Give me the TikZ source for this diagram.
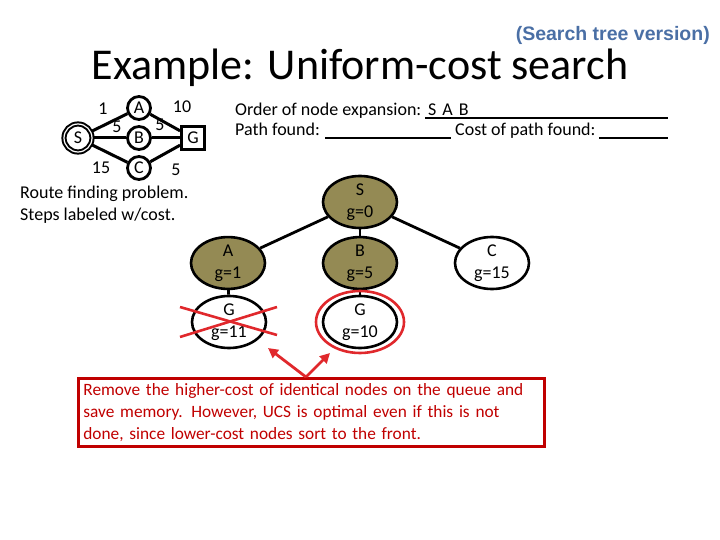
\documentclass[tikz,border=0pt]{standalone}
\usepackage{fontspec}
\setmainfont{Carlito}
\newfontfamily\arialfont{Liberation Sans}
\usetikzlibrary{positioning,arrows.meta,shapes.geometric}
\definecolor{olivefill}{HTML}{948A54}
\definecolor{notered}{HTML}{C00000}
\definecolor{markred}{HTML}{E0282C}
\definecolor{tagblue}{HTML}{4A6FA5}
\begin{document}
\begin{tikzpicture}[x=1pt,y=-1pt,font=\fontsize{18}{22}\selectfont,
  txt/.style={inner sep=0pt},
  gnode/.style={draw,circle,line width=2.8pt,minimum size=23pt,inner sep=0pt},
  gedge/.style={line width=3pt},
  tnode/.style={draw,ellipse,line width=2.6pt,minimum width=74pt,minimum height=46pt,inner sep=0pt,align=center},
  expanded/.style={tnode,fill=olivefill},
  tedge/.style={line width=2.8pt},
  redmark/.style={draw=markred,line width=2.6pt},
  pointer/.style={draw=markred,line width=2.8pt,-{Triangle[length=10pt,width=10pt]}},
  blank/.style={line width=1.4pt}]
  \useasboundingbox (0,0) rectangle (720,540);
  \node[txt,anchor=base east,font=\arialfont\bfseries\fontsize{19.5}{22}\selectfont,text=tagblue] (tag) at (710,41) {(Search tree version)};
  \node[txt,anchor=base,font=\fontsize{44}{48}\selectfont] (title) at (360,80) {Example: Uniform-cost search};
  % route finding graph
  \node[gnode,double,double distance=1.2pt,line width=2pt,minimum size=28pt] (gs) at (78,138) {S};
  \node[gnode] (ga) at (139,108) {A};
  \node[gnode] (gb) at (139,138) {B};
  \node[gnode] (gc) at (139,168) {C};
  \node[draw,rectangle,line width=2.8pt,minimum size=23pt,inner sep=0pt] (gg) at (193,138) {G};
  \draw[gedge] (gs) -- (ga); \draw[gedge] (gs) -- (gb); \draw[gedge] (gs) -- (gc);
  \draw[gedge] (ga) -- (gg); \draw[gedge] (gb) -- (gg); \draw[gedge] (gc) -- (gg);
  \node (wsa) at (103,109) {1};
  \node (wsb) at (117,127) {5};
  \node (wsc) at (101,168) {15};
  \node (wag) at (182,107) {10};
  \node (wbg) at (160,125) {5};
  \node (wcg) at (176,170) {5};
  \node[txt,anchor=west,align=left] (route) at (20,205) {Route finding problem.\\Steps labeled w/cost.};
  % expansion record
  \node[txt,anchor=base west] (order) at (235,116) {Order of node expansion:};
  \node[txt,anchor=base west] (seq) at (428,116) {S\,\,A\,\,B};
  \node[txt,anchor=base west] (path) at (235,136) {Path found:};
  \node[txt,anchor=base west] (cost) at (455,136) {Cost of path found:};
  \draw[blank] (425,118) -- (668,118);
  \draw[blank] (325,138) -- (451,138);
  \draw[blank] (599,138) -- (668,138);
  % search tree
  \node[expanded] (ts) at (360,202) {S\\g=0};
  \node[expanded] (ta) at (228,263) {A\\g=1};
  \node[expanded] (tb) at (360,263) {B\\g=5};
  \node[tnode] (tc) at (492,263) {C\\g=15};
  \node[tnode] (tga) at (229,322) {G\\g=11};
  \node[tnode] (tgb) at (360,322) {G\\g=10};
  \draw[tedge] (ts) -- (ta); \draw[tedge] (ts) -- (tb); \draw[tedge] (ts) -- (tc);
  \draw[tedge] (ta) -- (tga); \draw[tedge] (tb) -- (tgb);
  \draw[redmark] (180,307) -- (277,335);
  \draw[redmark] (180,337) -- (277,307);
  \node[redmark,ellipse,minimum width=88pt,minimum height=62pt] (keep) at (tgb) {};
  % note
  \node[draw=notered,line width=2.8pt,text=notered,anchor=north west,text width=456pt,inner sep=5pt,align=left,font=\fontsize{17.3}{22}\selectfont] (note) at (77,377)
    {Remove the higher-cost of identical nodes on the queue and\\save memory. However, UCS is optimal even if this is not\\done, since lower-cost nodes sort to the front.};
  \coordinate (apex) at (306,377);
  \coordinate (tipa) at (268,348);
  \coordinate (tipb) at (330,353);
  \draw[pointer] (apex) -- (tipa);
  \draw[pointer] (apex) -- (tipb);
\end{tikzpicture}
\end{document}
